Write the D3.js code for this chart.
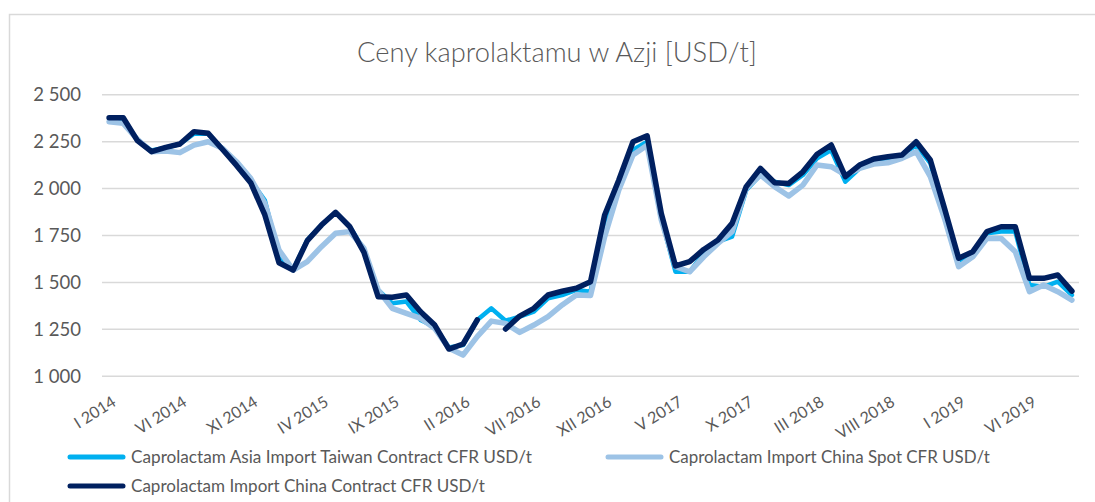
<!DOCTYPE html>
<html><head><meta charset="utf-8">
<script src="https://cdn.jsdelivr.net/npm/d3@7"></script>
<style>
html,body{margin:0;padding:0;background:#fff;}
svg{display:block;font-family:Lato,"Open Sans",sans-serif;}
</style></head>
<body>
<svg id="chart" width="1095" height="502"></svg>
<script>
const categories = [
"I 2014","II 2014","III 2014","IV 2014","V 2014","VI 2014","VII 2014","VIII 2014","IX 2014","X 2014","XI 2014","XII 2014",
"I 2015","II 2015","III 2015","IV 2015","V 2015","VI 2015","VII 2015","VIII 2015","IX 2015","X 2015","XI 2015","XII 2015",
"I 2016","II 2016","III 2016","IV 2016","V 2016","VI 2016","VII 2016","VIII 2016","IX 2016","X 2016","XI 2016","XII 2016",
"I 2017","II 2017","III 2017","IV 2017","V 2017","VI 2017","VII 2017","VIII 2017","IX 2017","X 2017","XI 2017","XII 2017",
"I 2018","II 2018","III 2018","IV 2018","V 2018","VI 2018","VII 2018","VIII 2018","IX 2018","X 2018","XI 2018","XII 2018",
"I 2019","II 2019","III 2019","IV 2019","V 2019","VI 2019","VII 2019","VIII 2019","IX 2019"];

const tickLabels = ["I 2014","VI 2014","XI 2014","IV 2015","IX 2015","II 2016","VII 2016","XII 2016","V 2017","X 2017","III 2018","VIII 2018","I 2019","VI 2019"];
const yTicks = [1000,1250,1500,1750,2000,2250,2500];

const taiwanContract = [2370,2370,2255,2200,2215,2235,2290,2290,2210,2130,2040,1935,
1640,1565,1723,1803,1871,1794,1670,1457,1386,1395,1297,1261,
1151,1163,1297,1359,1293,1315,1341,1412,1430,1457,1448,1812,
2008,2203,2247,1839,1554,1554,1652,1714,1741,1990,2070,2034,
2016,2070,2159,2203,2034,2105,2144,2153,2176,2229,2133,1865,
1599,1643,1759,1768,1768,1483,1474,1501,1430];

const chinaSpot = [2354,2345,2260,2194,2198,2189,2229,2247,2212,2141,2052,1919,
1670,1563,1608,1688,1759,1768,1679,1457,1359,1332,1306,1252,
1146,1110,1208,1291,1279,1231,1270,1315,1377,1430,1427,1741,
1990,2176,2229,1830,1581,1554,1634,1705,1768,1999,2070,2008,
1958,2016,2123,2114,2070,2105,2128,2135,2159,2194,2061,1839,
1581,1634,1732,1732,1661,1448,1483,1448,1403];

const chinaContract = [2375,2375,2253,2194,2217,2235,2301,2292,2207,2121,2029,1857,
1602,1563,1720,1803,1871,1794,1657,1421,1418,1430,1341,1270,
1142,1169,1297,null,1249,1318,1359,1430,1450,1466,1501,1857,
2043,2247,2279,1865,1585,1608,1673,1723,1812,2008,2105,2029,
2025,2087,2180,2230,2061,2123,2155,2167,2176,2247,2150,1892,
1626,1661,1768,1794,1794,1519,1519,1537,1451];

const seriesNames = ["Caprolactam Asia Import Taiwan Contract CFR USD/t","Caprolactam Import China Spot CFR USD/t","Caprolactam Import China Contract CFR USD/t"];
const seriesColors = ["#00b0f0","#9dc3e6","#002060"];
const seriesWidths = [4.5,5.5,5.5];
const seriesData = [taiwanContract, chinaSpot, chinaContract];
const titleText = "Ceny kaprolaktamu w Azji [USD/t]";

const svg = d3.select("#chart");
const textColor = "#595959";
const gridColor = "#d9d9d9";

function fit(sel, target){
  const n = sel.node();
  const fs = parseFloat(sel.attr("font-size"));
  const w = n.getComputedTextLength();
  if (w>0) sel.attr("font-size", (fs*target/w).toFixed(2));
}

// outer border
svg.append("rect").attr("x",9.5).attr("y",14.5).attr("width",1100).attr("height",500)
  .attr("fill","none").attr("stroke",gridColor).attr("stroke-width",1.5);

const x = d3.scalePoint().domain(categories).range([102,1079]).padding(0.5);
const y = d3.scaleLinear().domain([1000,2500]).range([375.7,94.3]);

// grid
const yAxis = d3.axisLeft(y).tickValues(yTicks).tickSize(-(1079-102)).tickPadding(21)
  .tickFormat(d => d3.format(",")(d).replace(","," "));
const gy = svg.append("g").attr("transform","translate(102,0)").call(yAxis);
gy.select(".domain").remove();
gy.selectAll(".tick line").attr("stroke",gridColor).attr("stroke-width",1.5);
gy.selectAll(".tick text").attr("fill",textColor).attr("font-size",19).attr("font-family","Lato").attr("dy","0.36em");
gy.selectAll(".tick text").each(function(){ fit(d3.select(this), d3.select(this).text().length*9.55); });

// x labels (own text elements, rotated about their anchor)
const xLab = svg.append("g").attr("class","xlabels");
tickLabels.forEach(lbl => {
  const cx = x(lbl) + 2, cy = 395;
  xLab.append("text")
    .attr("x", cx).attr("y", cy).attr("dy","0.72em")
    .attr("text-anchor","end")
    .attr("transform", "rotate(-32," + cx + "," + cy + ")")
    .attr("fill",textColor).attr("font-size",16).attr("font-family","Lato")
    .text(lbl);
});

// lines
const line = d3.line().defined(d => d.v !== null).x(d => x(d.c)).y(d => y(d.v));
seriesData.forEach((arr,i) => {
  svg.append("path")
    .datum(arr.map((v,j)=>({c:categories[j], v:v})))
    .attr("fill","none").attr("stroke",seriesColors[i]).attr("stroke-width",seriesWidths[i])
    .attr("stroke-linejoin","round").attr("stroke-linecap","round")
    .attr("d",line);
});

// title
const t = svg.append("text").attr("x",557).attr("y",62).attr("text-anchor","middle")
  .attr("fill",textColor).attr("font-size",26).attr("font-weight",300).text(titleText);
fit(t, 400);

// legend
const legendPos = [{x:68,y:457,w:401},{x:606,y:457,w:321},{x:68,y:486,w:354}];
seriesNames.forEach((nm,i) => {
  const p = legendPos[i];
  const g = svg.append("g");
  g.append("line").attr("x1",p.x+2).attr("x2",p.x+55).attr("y1",p.y).attr("y2",p.y)
    .attr("stroke",seriesColors[i]).attr("stroke-width",5).attr("stroke-linecap","round");
  const tx = g.append("text").attr("x",p.x+63).attr("y",p.y).attr("dy","0.36em")
    .attr("fill",textColor).attr("font-size",16).text(nm);
  fit(tx, p.w);
});
</script>
</body></html>
